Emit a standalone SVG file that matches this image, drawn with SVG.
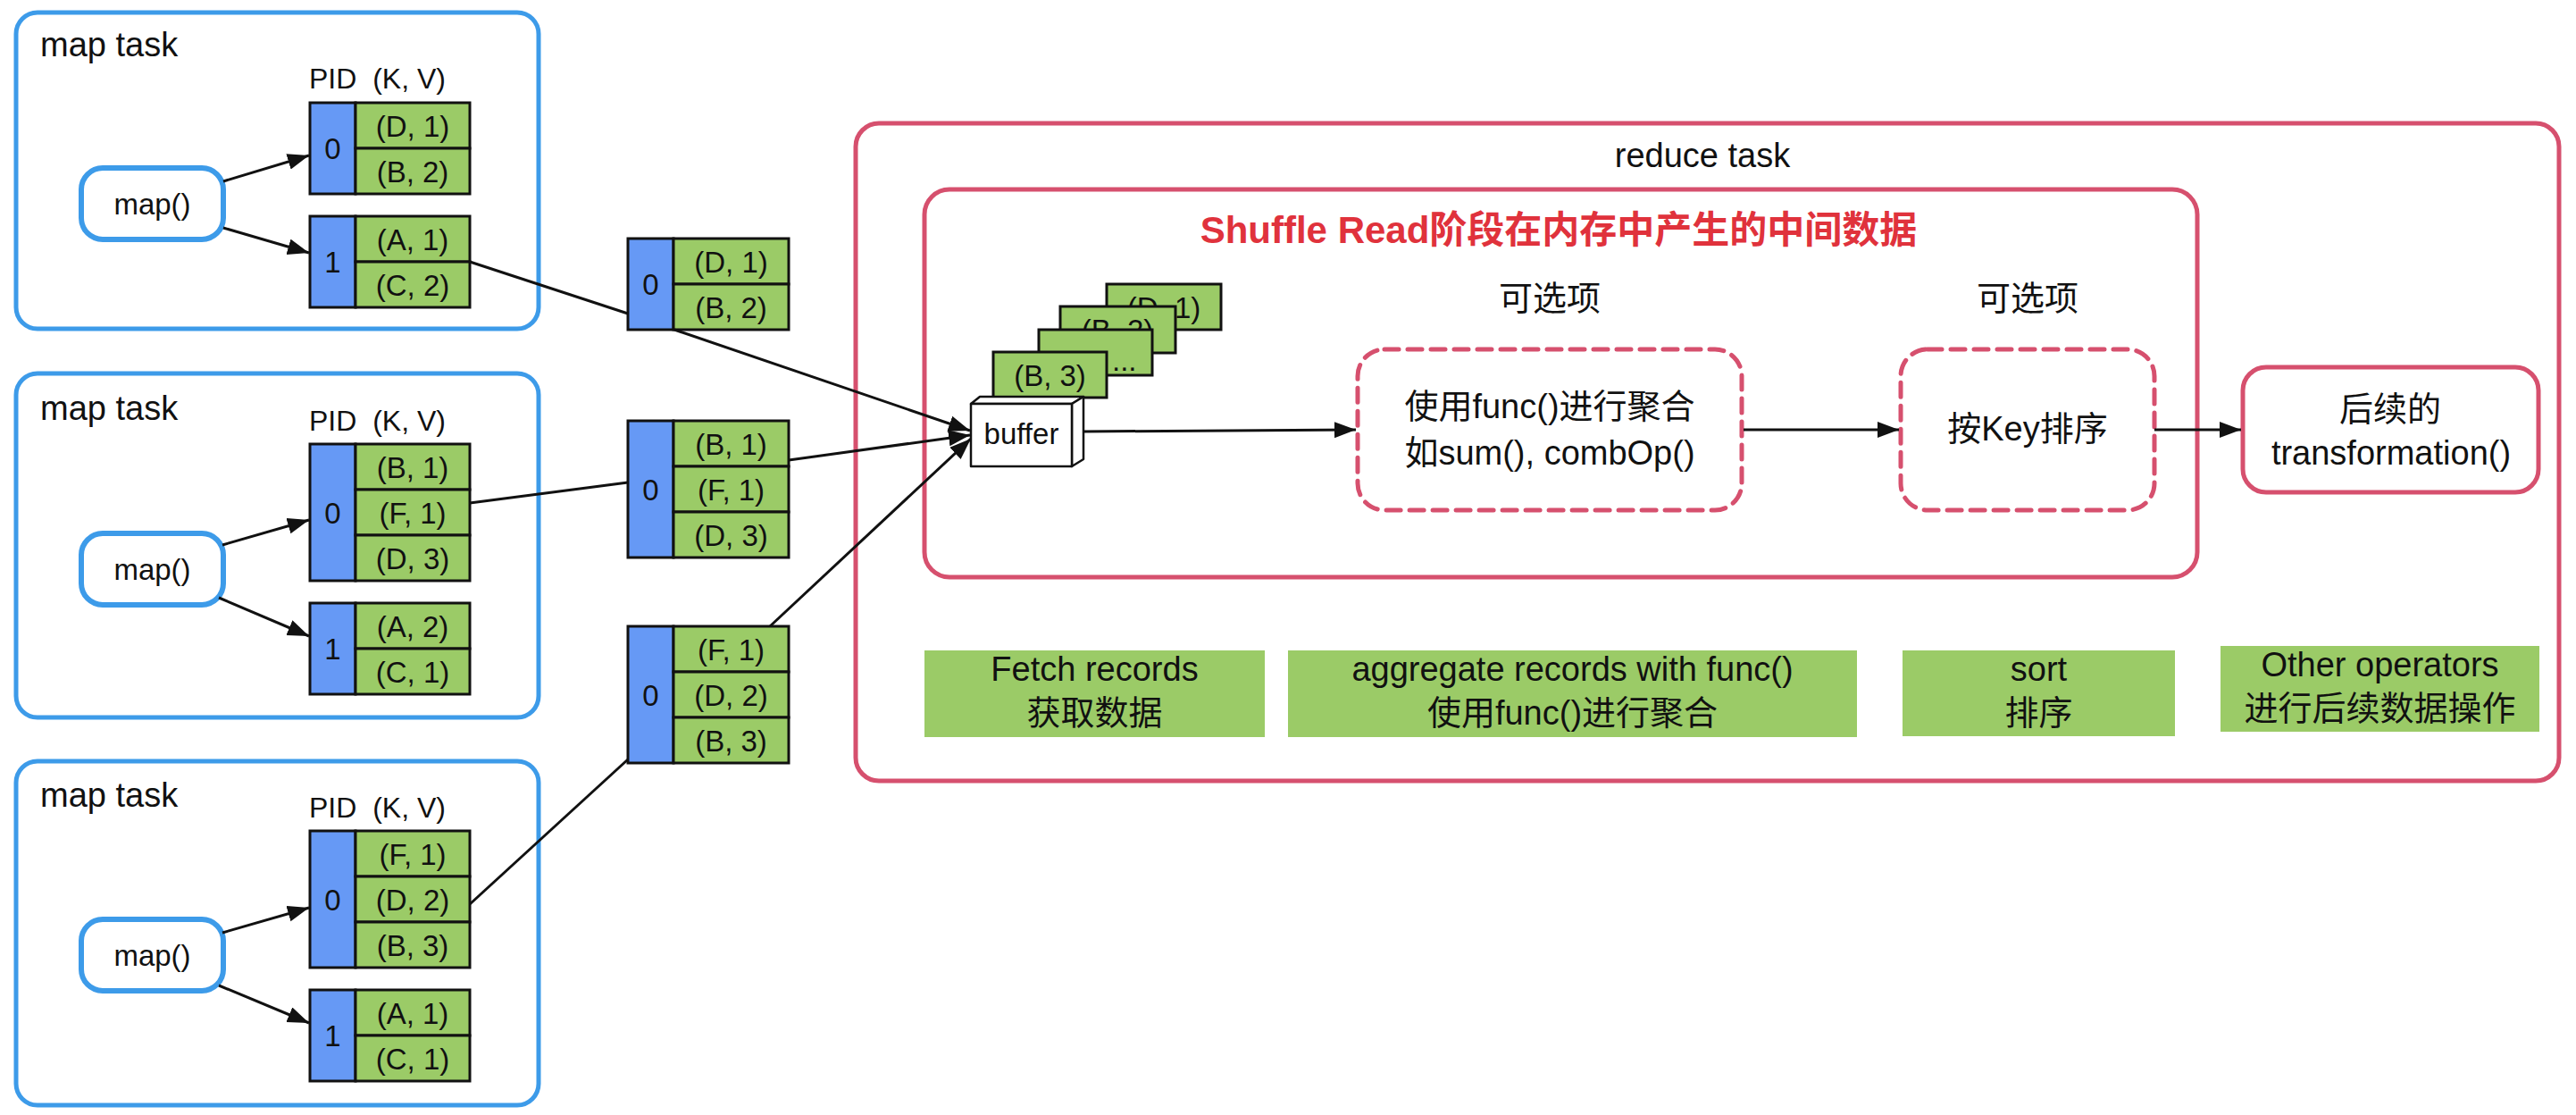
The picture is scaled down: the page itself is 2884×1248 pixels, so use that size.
<svg xmlns="http://www.w3.org/2000/svg" width="2884" height="1248" viewBox="0 0 2884 1248">
<style>
text{font-family:"Liberation Sans",Arial,"Noto Sans CJK SC",sans-serif;fill:#111}
.f32{font-size:32px}.f33{font-size:33px}.f38{font-size:38px}
.c{text-anchor:middle}
.mt{fill:#fff;stroke:#3d9be9;stroke-width:5}
.fn{fill:#fff;stroke:#3d9be9;stroke-width:6}
.pid{fill:#6699f5;stroke:#111;stroke-width:3}
.kv{fill:#9bcb67;stroke:#111;stroke-width:3}
.red{fill:#fff;stroke:#d6506e;stroke-width:5}
.dash{fill:#fff;stroke:#d6506e;stroke-width:5;stroke-dasharray:16 10;stroke-linecap:round}
.lbl{fill:#9bcb67}
.edge{stroke:#111;stroke-width:3;fill:none}
.arr{marker-end:url(#ah)}
.title{font-size:42px;font-weight:bold;fill:#e0323c}
.box3d{fill:#fff;stroke:#111;stroke-width:2.5;stroke-linejoin:round}
</style>
<defs>
<marker id="ah" markerUnits="userSpaceOnUse" markerWidth="26" markerHeight="20" refX="24" refY="9" orient="auto">
<path d="M0,0 L24,9 L0,18 Z" fill="#111"/>
</marker>
</defs>

<!-- map task 1 -->
<g id="maptask1">
<rect class="mt" x="18" y="14" width="585" height="354" rx="24"/>
<text class="f38" x="45" y="63">map task</text>
<text class="f32" x="346" y="99" xml:space="preserve">PID  (K, V)</text>
<g id="map1"><rect class="fn" x="91" y="188" width="159" height="80" rx="24"/><text class="f33 c" x="170.5" y="240">map()</text></g>
<g id="m1p0" transform="translate(347,115)">
<rect class="pid" x="0" y="0" width="51" height="102"/>
<rect class="kv" x="51" y="0" width="128" height="51"/><rect class="kv" x="51" y="51" width="128" height="51"/>
<text class="f33 c" x="25.5" y="63">0</text>
<text class="f33 c" x="115" y="37.5">(D, 1)</text><text class="f33 c" x="115" y="88.5">(B, 2)</text>
</g>
<g id="m1p1" transform="translate(347,242)">
<rect class="pid" x="0" y="0" width="51" height="102"/>
<rect class="kv" x="51" y="0" width="128" height="51"/><rect class="kv" x="51" y="51" width="128" height="51"/>
<text class="f33 c" x="25.5" y="63">1</text>
<text class="f33 c" x="115" y="37.5">(A, 1)</text><text class="f33 c" x="115" y="88.5">(C, 2)</text>
</g>
</g>

<!-- map task 2 -->
<g id="maptask2">
<rect class="mt" x="18" y="418" width="585" height="385" rx="24"/>
<text class="f38" x="45" y="470">map task</text>
<text class="f32" x="346" y="482" xml:space="preserve">PID  (K, V)</text>
<g id="map2"><rect class="fn" x="91" y="597" width="159" height="80" rx="24"/><text class="f33 c" x="170.5" y="649">map()</text></g>
<g id="m2p0" transform="translate(347,497)">
<rect class="pid" x="0" y="0" width="51" height="153"/>
<rect class="kv" x="51" y="0" width="128" height="51"/><rect class="kv" x="51" y="51" width="128" height="51"/><rect class="kv" x="51" y="102" width="128" height="51"/>
<text class="f33 c" x="25.5" y="88.5">0</text>
<text class="f33 c" x="115" y="37.5">(B, 1)</text><text class="f33 c" x="115" y="88.5">(F, 1)</text><text class="f33 c" x="115" y="139.5">(D, 3)</text>
</g>
<g id="m2p1" transform="translate(347,675)">
<rect class="pid" x="0" y="0" width="51" height="102"/>
<rect class="kv" x="51" y="0" width="128" height="51"/><rect class="kv" x="51" y="51" width="128" height="51"/>
<text class="f33 c" x="25.5" y="63">1</text>
<text class="f33 c" x="115" y="37.5">(A, 2)</text><text class="f33 c" x="115" y="88.5">(C, 1)</text>
</g>
</g>

<!-- map task 3 -->
<g id="maptask3">
<rect class="mt" x="18" y="852" width="585" height="385" rx="24"/>
<text class="f38" x="45" y="903">map task</text>
<text class="f32" x="346" y="915" xml:space="preserve">PID  (K, V)</text>
<g id="map3"><rect class="fn" x="91" y="1029" width="159" height="80" rx="24"/><text class="f33 c" x="170.5" y="1081">map()</text></g>
<g id="m3p0" transform="translate(347,930)">
<rect class="pid" x="0" y="0" width="51" height="153"/>
<rect class="kv" x="51" y="0" width="128" height="51"/><rect class="kv" x="51" y="51" width="128" height="51"/><rect class="kv" x="51" y="102" width="128" height="51"/>
<text class="f33 c" x="25.5" y="88.5">0</text>
<text class="f33 c" x="115" y="37.5">(F, 1)</text><text class="f33 c" x="115" y="88.5">(D, 2)</text><text class="f33 c" x="115" y="139.5">(B, 3)</text>
</g>
<g id="m3p1" transform="translate(347,1108)">
<rect class="pid" x="0" y="0" width="51" height="102"/>
<rect class="kv" x="51" y="0" width="128" height="51"/><rect class="kv" x="51" y="51" width="128" height="51"/>
<text class="f33 c" x="25.5" y="63">1</text>
<text class="f33 c" x="115" y="37.5">(A, 1)</text><text class="f33 c" x="115" y="88.5">(C, 1)</text>
</g>
</g>

<!-- reduce task -->
<g id="reducetask">
<rect class="red" x="958" y="138" width="1907" height="736" rx="26"/>
<text class="f38 c" x="1906" y="187">reduce task</text>
</g>
<g id="shuffle">
<rect class="red" x="1035" y="212" width="1425" height="434" rx="28"/>
<text class="title c" x="1745" y="272">Shuffle Read阶段在内存中产生的中间数据</text>
</g>

<!-- transferred partitions -->
<g id="t1" transform="translate(703,267)">
<rect class="pid" x="0" y="0" width="51" height="102"/>
<rect class="kv" x="51" y="0" width="129" height="51"/><rect class="kv" x="51" y="51" width="129" height="51"/>
<text class="f33 c" x="25.5" y="63">0</text>
<text class="f33 c" x="115.5" y="37.5">(D, 1)</text><text class="f33 c" x="115.5" y="88.5">(B, 2)</text>
</g>
<g id="t2" transform="translate(703,471)">
<rect class="pid" x="0" y="0" width="51" height="153"/>
<rect class="kv" x="51" y="0" width="129" height="51"/><rect class="kv" x="51" y="51" width="129" height="51"/><rect class="kv" x="51" y="102" width="129" height="51"/>
<text class="f33 c" x="25.5" y="88.5">0</text>
<text class="f33 c" x="115.5" y="37.5">(B, 1)</text><text class="f33 c" x="115.5" y="88.5">(F, 1)</text><text class="f33 c" x="115.5" y="139.5">(D, 3)</text>
</g>
<g id="t3" transform="translate(703,701)">
<rect class="pid" x="0" y="0" width="51" height="153"/>
<rect class="kv" x="51" y="0" width="129" height="51"/><rect class="kv" x="51" y="51" width="129" height="51"/><rect class="kv" x="51" y="102" width="129" height="51"/>
<text class="f33 c" x="25.5" y="88.5">0</text>
<text class="f33 c" x="115.5" y="37.5">(F, 1)</text><text class="f33 c" x="115.5" y="88.5">(D, 2)</text><text class="f33 c" x="115.5" y="139.5">(B, 3)</text>
</g>

<!-- record stack + buffer -->
<g id="records">
<rect class="kv" x="1239" y="318" width="128" height="51"/><text class="f33 c" x="1303" y="356">(D, 1)</text>
<rect class="kv" x="1187" y="343" width="129" height="52"/><text class="f33 c" x="1251" y="381">(B, 2)</text>
<rect class="kv" x="1163" y="369" width="127" height="51"/><text class="f33" x="1245" y="415">...</text>
<rect class="kv" x="1112" y="394" width="127" height="51"/><text class="f33 c" x="1175.5" y="432">(B, 3)</text>
</g>
<g id="buffer">
<polygon class="box3d" points="1087,452 1097,444 1213,444 1200,452"/>
<polygon class="box3d" points="1200,452 1213,444 1213,514 1200,522"/>
<rect class="box3d" x="1087" y="452" width="113" height="70"/>
<text class="f33 c" x="1143.5" y="497">buffer</text>
</g>

<g id="opt1">
<text class="f38 c" x="1735" y="347">可选项</text>
<rect class="dash" x="1520" y="391" width="430" height="180" rx="30"/>
<text class="f38 c" x="1735" y="468">使用func()进行聚合</text>
<text class="f38 c" x="1735" y="520">如sum(), combOp()</text>
</g>
<g id="opt2">
<text class="f38 c" x="2270" y="347">可选项</text>
<rect class="dash" x="2128" y="391" width="284" height="180" rx="30"/>
<text class="f38 c" x="2270" y="493">按Key排序</text>
</g>
<g id="next">
<rect class="red" x="2511" y="411" width="331" height="140" rx="26"/>
<text class="f38 c" x="2676" y="471">后续的</text>
<text class="f38 c" x="2677" y="520">transformation()</text>
</g>

<!-- stage labels -->
<g id="lblFetch"><rect class="lbl" x="1035" y="728" width="381" height="97"/>
<text class="f38 c" x="1225.5" y="762">Fetch records</text><text class="f38 c" x="1225.5" y="811">获取数据</text></g>
<g id="lblAgg"><rect class="lbl" x="1442" y="728" width="637" height="97"/>
<text class="f38 c" x="1760.5" y="762">aggregate records with func()</text><text class="f38 c" x="1760.5" y="811">使用func()进行聚合</text></g>
<g id="lblSort"><rect class="lbl" x="2130" y="728" width="305" height="96"/>
<text class="f38 c" x="2282.5" y="762">sort</text><text class="f38 c" x="2282.5" y="811">排序</text></g>
<g id="lblOther"><rect class="lbl" x="2486" y="723" width="357" height="96"/>
<text class="f38 c" x="2664.5" y="757">Other operators</text><text class="f38 c" x="2664.5" y="806">进行后续数据操作</text></g>

<!-- connectors -->
<g id="connectors">
<line class="edge arr" x1="250" y1="203" x2="346" y2="174"/>
<line class="edge arr" x1="250" y1="255" x2="346" y2="283"/>
<line class="edge arr" x1="249" y1="610" x2="346" y2="582"/>
<line class="edge arr" x1="245" y1="669" x2="346" y2="712"/>
<line class="edge arr" x1="249" y1="1044" x2="346" y2="1016"/>
<line class="edge arr" x1="245" y1="1103" x2="346" y2="1145"/>
<line class="edge" x1="526" y1="293" x2="703" y2="351"/>
<line class="edge" x1="526" y1="563" x2="703" y2="540"/>
<line class="edge" x1="526" y1="1012" x2="703" y2="850"/>
<line class="edge arr" x1="755" y1="369" x2="1086" y2="482"/>
<line class="edge arr" x1="883" y1="515" x2="1086" y2="487"/>
<line class="edge arr" x1="862" y1="701" x2="1087" y2="491"/>
<line class="edge arr" x1="1213" y1="483" x2="1518" y2="481"/>
<line class="edge arr" x1="1952" y1="481" x2="2126" y2="481"/>
<line class="edge arr" x1="2412" y1="481" x2="2509" y2="481"/>
</g>
</svg>
